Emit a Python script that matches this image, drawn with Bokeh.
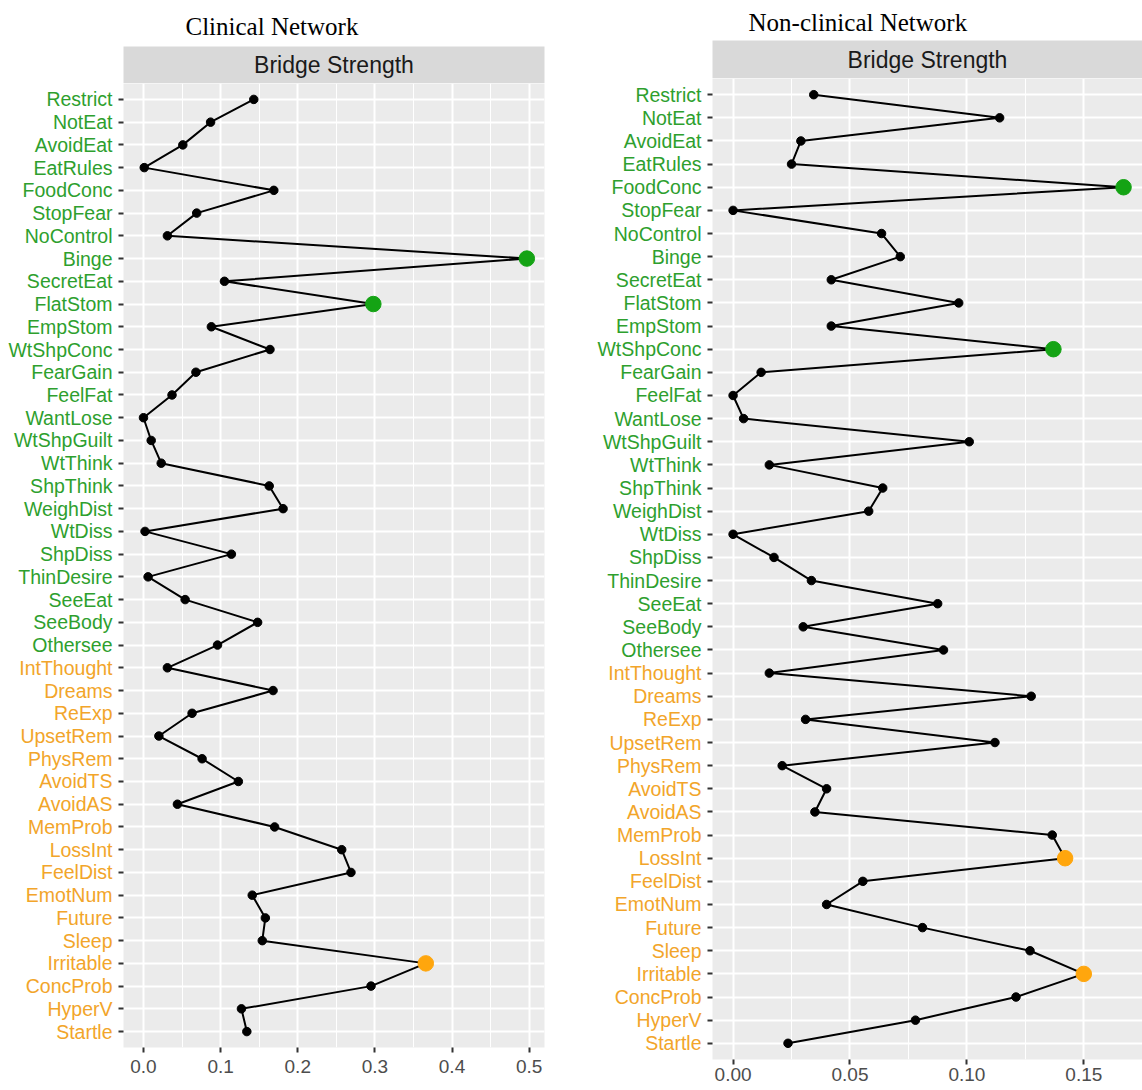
from bokeh.plotting import figure
from bokeh.models import (Range1d, FactorRange, ColumnDataSource, Label,
                          FixedTicker, NumeralTickFormatter)
from bokeh.layouts import row, column
from bokeh.core.properties import value
from bokeh.embed import file_html
from bokeh.resources import INLINE

# ---------------- data ----------------
nodes = ["Restrict", "NotEat", "AvoidEat", "EatRules", "FoodConc", "StopFear", "NoControl",
         "Binge", "SecretEat", "FlatStom", "EmpStom", "WtShpConc", "FearGain", "FeelFat",
         "WantLose", "WtShpGuilt", "WtThink", "ShpThink", "WeighDist", "WtDiss", "ShpDiss",
         "ThinDesire", "SeeEat", "SeeBody", "Othersee",
         "IntThought", "Dreams", "ReExp", "UpsetRem", "PhysRem", "AvoidTS", "AvoidAS",
         "MemProb", "LossInt", "FeelDist", "EmotNum", "Future", "Sleep", "Irritable",
         "ConcProb", "HyperV", "Startle"]
groups = ["ED"] * 25 + ["PTSD"] * 17

clinical = [0.143, 0.087, 0.051, 0.001, 0.169, 0.069, 0.031,
            0.497, 0.105, 0.298, 0.088, 0.164, 0.068, 0.037,
            0.000, 0.010, 0.023, 0.163, 0.181, 0.002, 0.114,
            0.006, 0.054, 0.148, 0.096,
            0.031, 0.168, 0.063, 0.020, 0.076, 0.123, 0.044,
            0.170, 0.257, 0.269, 0.141, 0.158, 0.154, 0.366,
            0.295, 0.127, 0.134]
nonclinical = [0.0345, 0.114, 0.029, 0.025, 0.167, 0.000, 0.0635,
               0.0715, 0.042, 0.0965, 0.042, 0.137, 0.012, 0.000,
               0.0045, 0.101, 0.0155, 0.064, 0.058, 0.000, 0.0175,
               0.0335, 0.0875, 0.030, 0.090,
               0.0155, 0.1275, 0.031, 0.112, 0.021, 0.040, 0.035,
               0.1365, 0.142, 0.0555, 0.040, 0.081, 0.127, 0.150,
               0.121, 0.078, 0.0235]
clinical_top = ["Binge", "FlatStom", "Irritable"]
nonclinical_top = ["FoodConc", "WtShpConc", "LossInt", "Irritable"]

clinical_ticks = [0.0, 0.1, 0.2, 0.3, 0.4, 0.5]
clinical_minor = [0.05, 0.15, 0.25, 0.35, 0.45]
nonclinical_ticks = [0.0, 0.05, 0.10, 0.15]
nonclinical_minor = [0.025, 0.075, 0.125]

# ---------------- style ----------------
SANS = "Liberation Sans"
SERIF = "Liberation Serif"
TXT_COL = {"ED": "#2E9F2E", "PTSD": "#F2A52A"}
PT_COL = {"ED": "#14A314", "PTSD": "#FFA60D"}


def make_panel(title_text, title_dx, title_standoff, vals, top_nodes, x_start, x_end,
               ticks, minor, fmt, label_w, width, mb_right, strip_top, strip_h,
               frame_h, bottom, x_standoff):
    xr = Range1d(x_start, x_end)
    tick_border = 6

    # strip with facet label, panel title above it
    s = figure(width=width, height=strip_top + strip_h, x_range=xr, y_range=Range1d(0, 1),
               x_axis_type=None, y_axis_type=None,
               min_border_left=label_w + tick_border, min_border_right=mb_right,
               min_border_top=strip_top, min_border_bottom=0,
               toolbar_location=None, output_backend="svg",
               background_fill_color="#D9D9D9", border_fill_color="white",
               outline_line_color=None)
    s.grid.visible = False
    s.title.text = title_text
    s.title.align = "left"
    s.title.offset = title_dx
    s.title.standoff = title_standoff
    s.title.text_font = SERIF
    s.title.text_font_size = "25px"
    s.title.text_font_style = "normal"
    s.title.text_color = "black"
    s.add_layout(Label(x=(x_start + x_end) / 2, y=0.5, text="Bridge Strength",
                       text_align="center", text_baseline="middle",
                       text_font=SANS, text_font_size="23px", text_color="#1A1A1A"))

    yr = FactorRange(factors=list(reversed(nodes)), range_padding=0.2,
                     range_padding_units="absolute")

    src = ColumnDataSource(dict(node=nodes, val=vals,
                                xlab=[1.0] * len(nodes),
                                tcol=[TXT_COL[g] for g in groups]))

    # y tick labels (coloured by group)
    lab = figure(width=label_w, height=frame_h + bottom, x_range=Range1d(0, 1), y_range=yr,
                 x_axis_type=None, y_axis_type=None,
                 min_border_left=0, min_border_right=0, min_border_top=0,
                 min_border_bottom=bottom, toolbar_location=None, output_backend="svg",
                 background_fill_color="white", border_fill_color="white",
                 outline_line_color=None)
    lab.grid.visible = False
    lab.text(x="xlab", y="node", text="node", source=src, x_offset=-5,
             text_align="right", text_baseline="middle", text_color="tcol",
             text_font=value(SANS), text_font_size=value("19.5px"))

    p = figure(width=width - label_w, height=frame_h + bottom, x_range=xr, y_range=yr,
               min_border_left=tick_border, min_border_right=mb_right,
               min_border_top=0, min_border_bottom=bottom,
               toolbar_location=None, output_backend="svg",
               background_fill_color="#EBEBEB", border_fill_color="white",
               outline_line_color=None)

    p.xaxis.ticker = FixedTicker(ticks=ticks, minor_ticks=minor)
    p.xaxis.formatter = NumeralTickFormatter(format=fmt)
    for ax in (p.xaxis, p.yaxis):
        ax.axis_line_color = None
        ax.major_tick_line_color = "#333333"
        ax.major_tick_line_width = 2
        ax.major_tick_in = 0
        ax.major_tick_out = 5
        ax.minor_tick_line_color = None
    p.xaxis.major_label_text_font = SANS
    p.xaxis.major_label_text_font_size = "19px"
    p.xaxis.major_label_text_color = "#4D4D4D"
    p.xaxis.major_label_standoff = x_standoff
    # the y labels are drawn (coloured) in the label figure; axis keeps only ticks
    p.yaxis.major_label_text_color = None
    p.yaxis.major_label_text_font_size = "0px"
    p.yaxis.major_label_standoff = 0

    p.xgrid.grid_line_color = "white"
    p.xgrid.grid_line_width = 2
    p.xgrid.minor_grid_line_color = "white"
    p.xgrid.minor_grid_line_width = 1
    p.ygrid.grid_line_color = "white"
    p.ygrid.grid_line_width = 2

    p.line(x="val", y="node", source=src, line_color="black", line_width=2)
    p.scatter(x="val", y="node", source=src, size=8.5, color="black")

    top_idx = [i for i, n in enumerate(nodes) if n in top_nodes]
    tsrc = ColumnDataSource(dict(node=[nodes[i] for i in top_idx],
                                 val=[vals[i] for i in top_idx],
                                 pcol=[PT_COL[groups[i]] for i in top_idx]))
    p.scatter(x="val", y="node", source=tsrc, size=15.5, color="pcol")

    return column(s, row(lab, p))


left = make_panel("Clinical Network", 62, 13, clinical, clinical_top,
                  -0.0259, 0.5199, clinical_ticks, clinical_minor, "0.0",
                  label_w=117, width=570, mb_right=26, strip_top=46, strip_h=37,
                  frame_h=964, bottom=43, x_standoff=7)
right = make_panel("Non-clinical Network", 36, 9, nonclinical, nonclinical_top,
                   -0.0088, 0.1751, nonclinical_ticks, nonclinical_minor, "0.00",
                   label_w=136, width=572, mb_right=0, strip_top=40, strip_h=38,
                   frame_h=981, bottom=31, x_standoff=3)

layout = row(left, right)
open("out.html", "w").write(file_html(layout, INLINE))
